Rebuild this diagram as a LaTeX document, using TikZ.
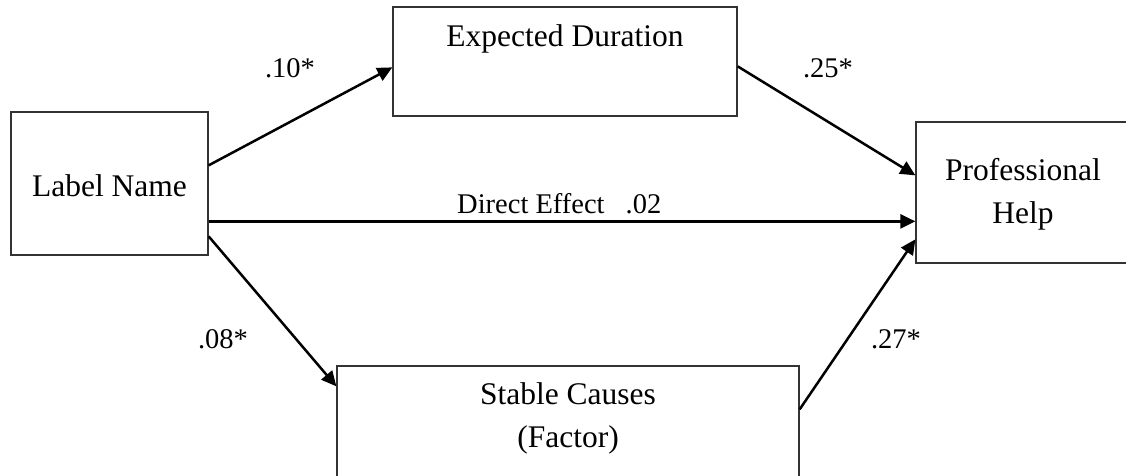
\documentclass[tikz,border=0pt]{standalone}
\usepackage{fontspec}
\setmainfont{Liberation Serif}
\usetikzlibrary{arrows.meta,calc}
\begin{document}
\begin{tikzpicture}[x=1pt,y=-1pt,
  box/.style={draw=black!80,line width=1.3pt,rectangle,inner sep=0pt,
    font=\fontsize{31.5}{43}\selectfont,align=center},
  boxtext/.style={inner sep=0pt,font=\fontsize{31.5}{43}\selectfont,align=center},
  coef/.style={inner sep=0pt,font=\fontsize{28.5}{34}\selectfont},
  path/.style={line width=2.5pt,-{Triangle[length=15pt,width=14pt]}}]
\useasboundingbox (0,0) rectangle (1126,476);
\clip (0,0) rectangle (1126,476);
\fill[white] (0,0) rectangle (1126,476);
% boxes
\node[box,minimum width=197pt,minimum height=143pt] (ln) at (109.5,183.5) {};
\node[boxtext,anchor=base] (lnt) at (109.5,196) {Label Name};
\node[box,minimum width=344pt,minimum height=109pt] (ed) at (565,61.5) {};
\node[boxtext,anchor=base] (edt) at (565,47) {Expected Duration};
\node[box,minimum width=214pt,minimum height=141pt] (ph) at (1023,192.5) {};
\node[boxtext] (pht) at (1023,194) {Professional\\Help};
\node[box,minimum width=462pt,minimum height=140pt] (sc) at (568,436) {};
\node[boxtext] (sct) at (568,418.5) {Stable Causes\\(Factor)};
% connectors
\draw[path] ($(ln.north east)+(0,54)$) -- ($(ed.north west)+(0,61)$);
\draw[path] ($(ed.north east)+(0,60)$) -- ($(ph.north west)+(0,54)$);
\draw[path] ($(ln.north east)+(0,110)$) -- ($(ph.north west)+(0,100)$);
\draw[path] ($(ln.north east)+(0,125)$) -- ($(sc.north west)+(0,21)$);
\draw[path] ($(sc.north east)+(0,44)$) -- ($(ph.north west)+(0,118)$);
% labels
\node[coef,anchor=base] (c1) at (290,78) {.10*};
\node[coef,anchor=base] (c2) at (828,78) {.25*};
\node[coef,anchor=base west] (c3) at (457,213) {Direct Effect\hspace{21pt}.02};
\node[coef,anchor=base] (c4) at (223,348) {.08*};
\node[coef,anchor=base] (c5) at (896,348) {.27*};
\end{tikzpicture}
\end{document}
